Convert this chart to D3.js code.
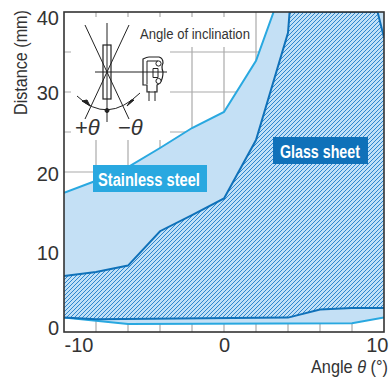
<!DOCTYPE html>
<html>
<head>
<meta charset="utf-8">
<script src="https://cdnjs.cloudflare.com/ajax/libs/d3/7.8.5/d3.min.js"></script>
<style>
  body { margin: 0; background: #fff; }
  text { fill: #333; font-family: "Liberation Sans", sans-serif; }
</style>
</head>
<body>
<div id="chart"></div>
<script>
// values
const steelTopAngle = [-10, -8, -6, -4, -2, 0, 2, 3.1];
const steelTopDist = [17.4, 18.9, 20.6, 23, 25.5, 27.5, 33.9, 40];
const steelLowAngle = [-10, -8, -6, 8, 10];
const steelLowDist = [1.8, 1.4, 1.0, 1.1, 1.8];
const glassTopAngle = [-10, -8, -6, -4, -2, 0, 2, 4, 4.1, 9.6, 10];
const glassTopDist = [7.0, 7.5, 8.3, 12.6, 14.6, 16.7, 24, 37.4, 40, 40, 36.8];
const glassLowAngle = [-10, -8, 4, 6, 8, 10];
const glassLowDist = [1.8, 1.6, 1.8, 2.8, 3.0, 3.0];
const xTicks = [-10, 0, 10];
const yTicks = [0, 10, 20, 30, 40];
const xGrid = [-8, -6, -4, -2, 0, 2, 4, 6, 8];
const yGrid = [5, 15, 25, 35, 10, 20, 30];

const margin = {top: 12, right: 6, bottom: 48, left: 64},
  width = 390 - margin.left - margin.right,
  height = 380 - margin.top - margin.bottom;

const STEEL = "#29a8e0", GLASS = "#0f71b9", FILL = "#c4e0f5", GRID = "#aaaaaa";

const svg = d3.select("#chart").append("svg")
  .attr("width", 390)
  .attr("height", 380)
  .style("display", "block");

const defs = svg.append("defs");
defs.append("clipPath").attr("id", "plot")
  .append("rect").attr("width", width).attr("height", height);
const hatch = defs.append("pattern").attr("id", "hatch")
  .attr("patternUnits", "userSpaceOnUse")
  .attr("width", 4).attr("height", 4);
hatch.append("rect").attr("width", 4).attr("height", 4).attr("fill", "#c0e0f7");
hatch.append("path").attr("d", "M-1,1L1,-1M0,4L4,0M3,5L5,3")
  .attr("stroke", "#2f86cd").attr("stroke-width", 1);

const g = svg.append("g").attr("transform", `translate(${margin.left},${margin.top})`);

const x = d3.scaleLinear().domain([-10, 10]).range([0, width]);
const y = d3.scaleLinear().domain([0, 40]).range([height, 0]);

// grid
g.append("g").selectAll("line").data(xGrid).join("line")
  .attr("x1", d => x(d)).attr("x2", d => x(d))
  .attr("y1", 0).attr("y2", height)
  .attr("stroke", GRID).attr("stroke-width", 1.2);
g.append("g").selectAll("line").data(yGrid).join("line")
  .attr("x1", 0).attr("x2", width)
  .attr("y1", d => y(d)).attr("y2", d => y(d))
  .attr("stroke", GRID).attr("stroke-width", 1.2);

const zip = (xs, ys) => xs.map((a, i) => [a, ys[i]]);
const line = d3.line().x(d => x(d[0])).y(d => y(d[1]));

const steelTop = zip(steelTopAngle, steelTopDist);
const steelLow = zip(steelLowAngle, steelLowDist);
const glassTop = zip(glassTopAngle, glassTopDist);
const glassLow = zip(glassLowAngle, glassLowDist);

const plot = g.append("g").attr("clip-path", "url(#plot)");

// stainless steel region
plot.append("path")
  .attr("d", line([...steelTop, [10, 40], ...steelLow.slice().reverse()]) + "Z")
  .attr("fill", FILL);
plot.append("path").attr("d", line(steelTop)).attr("fill", "none").attr("stroke", STEEL).attr("stroke-width", 2);
plot.append("path").attr("d", line(steelLow)).attr("fill", "none").attr("stroke", STEEL).attr("stroke-width", 2);

// glass sheet region
plot.append("path")
  .attr("d", line([...glassTop, ...glassLow.slice().reverse()]) + "Z")
  .attr("fill", "url(#hatch)");
plot.append("path").attr("d", line(glassTop)).attr("fill", "none").attr("stroke", GLASS).attr("stroke-width", 2);
plot.append("path").attr("d", line(glassLow)).attr("fill", "none").attr("stroke", GLASS).attr("stroke-width", 2);

// white area that holds the inset drawing
svg.append("rect").attr("x", 71).attr("y", 17).attr("width", 99).attr("height", 123).attr("fill", "#fff");
svg.append("rect").attr("x", 170).attr("y", 17).attr("width", 82).attr("height", 30).attr("fill", "#fff");

// frame
g.append("rect").attr("width", width).attr("height", height)
  .attr("fill", "none").attr("stroke", "#333").attr("stroke-width", 1.6);

// axes, labels at the ends are pulled inwards
const yShift = {40: 12, 30: 7, 20: 8, 10: 7, 0: 2};
const yAxis = g.append("g").call(d3.axisLeft(y).tickValues(yTicks).tickSize(0).tickPadding(5));
yAxis.select(".domain").remove();
yAxis.selectAll("text")
  .attr("font-size", 20).style("fill", "#333").style("font-family", "Liberation Sans")
  .attr("dy", 0)
  .attr("y", d => yShift[d]);
const xAxis = g.append("g").attr("transform", `translate(0,${height})`)
  .call(d3.axisBottom(x).tickValues(xTicks).tickSize(0).tickFormat(d => String(d)));
xAxis.select(".domain").remove();
xAxis.selectAll("text")
  .attr("font-size", 20).style("fill", "#333").style("font-family", "Liberation Sans")
  .attr("text-anchor", d => d == -10 ? "start" : d == 10 ? "end" : "middle")
  .attr("x", d => d == 10 ? 4 : 0)
  .attr("dy", 0)
  .attr("y", 20);

// condensed look by squeezing the text to a width, no narrow face is installed
function fit(sel, px, py, len, rotate) {
  const sx = len / sel.node().getComputedTextLength();
  sel.attr("transform", `translate(${px},${py})${rotate ? " rotate(-90)" : ""} scale(${sx},1)`);
}

fit(svg.append("text").attr("font-size", 19).text("Distance (mm)"), 27, 115, 105, true);

const xTitle = svg.append("text").attr("font-size", 18);
xTitle.append("tspan").text("Angle ");
xTitle.append("tspan").attr("font-style", "italic").text("θ");
xTitle.append("tspan").text(" (°)");
fit(xTitle, 311, 373, 77);

fit(svg.append("text").attr("font-size", 15.5).text("Angle of inclination"), 140, 39, 110);

// region labels
svg.append("rect").attr("x", 93).attr("y", 165).attr("width", 114).attr("height", 27).attr("fill", STEEL);
fit(svg.append("text").attr("font-size", 19).attr("font-weight", "bold").style("fill", "#fff").text("Stainless steel"), 98, 186, 102);
svg.append("rect").attr("x", 273).attr("y", 137).attr("width", 95).attr("height", 27).attr("fill", GLASS);
fit(svg.append("text").attr("font-size", 19).attr("font-weight", "bold").style("fill", "#fff").text("Glass sheet"), 280, 158, 80);

// inset drawing
const inset = svg.append("g").attr("fill", "none").attr("stroke", "#222").attr("stroke-width", 1);
inset.append("path").attr("d", "M107,23V122M85,25L129,119M129,25L85,119M95,72H167");
inset.append("rect").attr("x", 103).attr("y", 45).attr("width", 8).attr("height", 54).attr("stroke-width", 1.2);
inset.append("path").attr("d", "M77,96Q107,125 140,93");
inset.append("circle").attr("cx", 107).attr("cy", 110.5).attr("r", 2).attr("fill", "#222");
inset.append("path").attr("d", "M82,101L90,106L87,100ZM134,100L127,106L131,100Z").attr("fill", "#222");
// sensor
inset.append("path").attr("d", "M143,59Q147,57 149,57H159Q163,58 163,63Q161,67 163,72Q163,79 160,83L157,85L157,92H147L147,85H143Z").attr("stroke-width", 1.2);
inset.append("path").attr("d", "M147,61V84M147,61H158M149,91V101M155,91V101M153,68.5H158V77.5H153Z");
inset.append("circle").attr("cx", 158.5).attr("cy", 63.5).attr("r", 2.6).attr("fill", "#fff");
inset.append("circle").attr("cx", 158.5).attr("cy", 81).attr("r", 2.6).attr("fill", "#fff");

[["+", 75], ["−", 118]].forEach(([sign, px]) => {
  const t = svg.append("text").attr("x", px).attr("y", 135).attr("font-size", 22);
  t.append("tspan").text(sign);
  t.append("tspan").attr("font-style", "italic").text("θ");
});
</script>
</body>
</html>
